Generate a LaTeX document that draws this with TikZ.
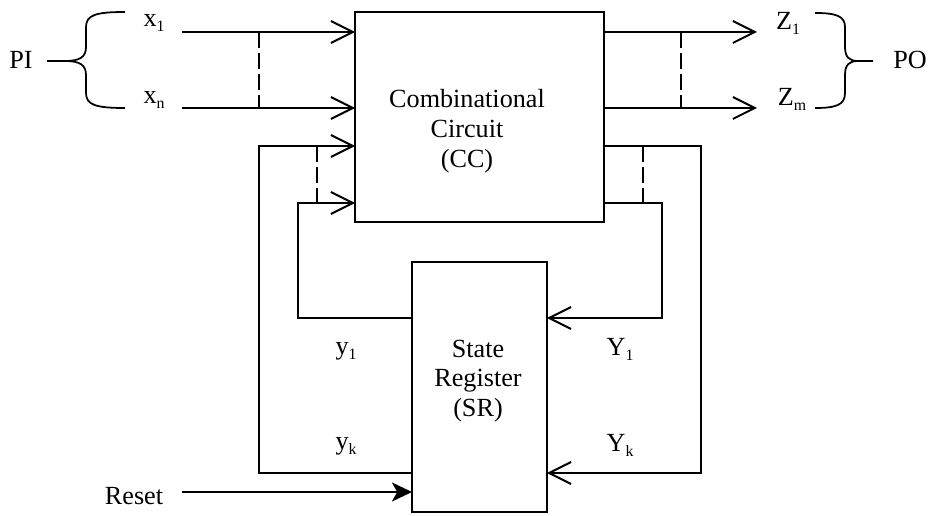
\documentclass[tikz,border=0pt]{standalone}
\usepackage{fontspec}
\setmainfont{Liberation Serif}
\usepackage{tikz}
\usetikzlibrary{arrows.meta, positioning}
\newcommand{\sbs}[1]{\raisebox{-2.3pt}{\fontsize{9}{9}\selectfont #1}}

\begin{document}
\begin{tikzpicture}[x=0.02cm, y=-0.02cm, line width=1.1pt,
  blk/.style={draw, inner sep=0pt, outer sep=0pt},
  sig/.style={-{Straight Barb[length=12.5pt, width=12.5pt]}},
  busdash/.style={dash pattern=on 9pt off 3pt, line width=1pt},
  txt/.style={font=\fontsize{14.9}{17}\selectfont, inner sep=0pt},
  lbl/.style={txt, anchor=base}]
  \useasboundingbox (0,0) rectangle (930,516);
  % blocks
  \node[blk, minimum width=4.98cm, minimum height=4.2cm] (cc) at (479.5,117) {};
  \node[txt, align=center] (cctext) at (467,131) {Combinational\\Circuit\\(CC)};
  \node[blk, minimum width=2.7cm, minimum height=5cm] (sr) at (479.5,387) {};
  \node[txt, align=center] (srtext) at (478,381) {State\\Register\\(SR)};

  % primary inputs and outputs
  \coordinate (x1s) at (182,32);
  \coordinate (xns) at (182,108);
  \coordinate (z1e) at (757,32);
  \coordinate (zme) at (757,108);
  \draw[sig] (x1s) -- (x1s -| cc.west);
  \draw[sig] (xns) -- (xns -| cc.west);
  \draw[sig] (cc.east |- z1e) -- (z1e);
  \draw[sig] (cc.east |- zme) -- (zme);
  \coordinate (dx) at (259,32);
  \coordinate (dz) at (681,32);
  \draw[busdash] (dx) -- (dx |- xns);
  \draw[busdash] (dz) -- (dz |- zme);
  \node[lbl] (x1) at (154,27) {x\sbs{1}};
  \node[lbl] (xn) at (154,104) {x\sbs{n}};
  \node[lbl] (z1) at (788,30) {Z\sbs{1}};
  \node[lbl] (zm) at (792,106) {Z\sbs{m}};

  % braces
  \draw[line width=1pt] (125,12) .. controls (96,12) and (86,15) .. (86,27) -- (86,47)
    .. controls (86,57) and (80,61) .. (65,61) -- (47,61);
  \draw[line width=1pt] (125,108) .. controls (96,108) and (86,105) .. (86,93) -- (86,75)
    .. controls (86,65) and (80,61) .. (65,61);
  \draw[line width=1pt] (815,13) .. controls (836,13) and (845,16) .. (845,27) -- (845,47)
    .. controls (845,57) and (849,61) .. (858,61) -- (873,61);
  \draw[line width=1pt] (815,108) .. controls (836,108) and (845,105) .. (845,93) -- (845,75)
    .. controls (845,65) and (849,61) .. (858,61);
  \node[txt] (pi) at (21,60) {PI};
  \node[txt] (po) at (910,60) {PO};

  % feedback loops
  \coordinate (lo) at (259,473);
  \coordinate (lot) at (259,146);
  \coordinate (li) at (298,318);
  \coordinate (lit) at (298,203);
  \coordinate (ri) at (662,318);
  \coordinate (rit) at (662,203);
  \coordinate (ro) at (701,473);
  \coordinate (rot) at (701,146);
  \draw[sig] (sr.west |- lo) -- (lo) -- (lot) -- (cc.west |- lot);
  \draw[sig] (sr.west |- li) -- (li) -- (lit) -- (cc.west |- lit);
  \draw[sig] (cc.east |- rit) -- (rit) -- (ri) -- (sr.east |- ri);
  \draw[sig] (cc.east |- rot) -- (rot) -- (ro) -- (sr.east |- ro);
  \coordinate (dl) at (317,146);
  \coordinate (dr) at (643,146);
  \draw[busdash] (dl) -- (dl |- lit);
  \draw[busdash] (dr) -- (dr |- rit);
  \node[lbl] (y1) at (346,355) {y\sbs{1}};
  \node[lbl] (yk) at (346,450) {y\sbs{k}};
  \node[lbl] (Y1) at (620,356) {Y\sbs{1}};
  \node[lbl] (Yk) at (620,452) {Y\sbs{k}};

  % reset
  \coordinate (rs) at (182,492);
  \draw[-{Stealth[length=11.4pt, width=10.8pt, inset=3pt]}] (rs) -- (rs -| sr.west);
  \node[lbl] (reset) at (134,505) {Reset};
\end{tikzpicture}
\end{document}
